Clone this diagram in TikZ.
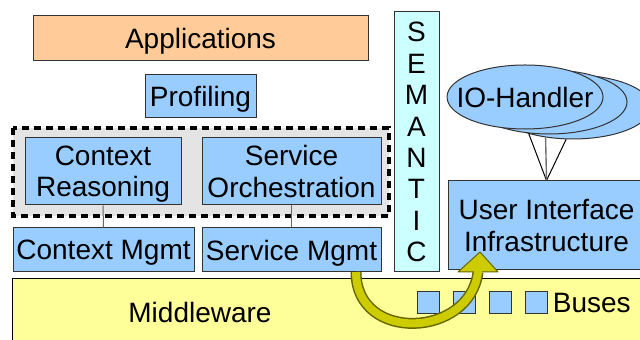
\documentclass[tikz,border=0pt]{standalone}
\usepackage{fontspec}
\setmainfont{Liberation Sans}
\usepackage{tikz}
\usetikzlibrary{shapes.geometric}

\definecolor{appfill}{HTML}{FFCC99}
\definecolor{boxblue}{HTML}{99CCFF}
\definecolor{semfill}{HTML}{CCFFFF}
\definecolor{mwfill}{HTML}{FFFF99}
\definecolor{groupfill}{HTML}{E4E4E4}
\definecolor{arrfill}{HTML}{CCCC00}
\definecolor{arrline}{HTML}{666600}

\begin{document}
\begin{tikzpicture}[x=0.5pt,y=-0.5pt,
		font=\fontsize{14}{15.7}\selectfont,
		box/.style={draw=black!80,line width=0.5pt,fill=boxblue,inner sep=0pt,align=center,text depth=0pt},
		ioell/.style={ellipse,draw=black!80,line width=0.5pt,fill=boxblue,inner sep=0pt,minimum width=78pt,minimum height=32pt}]
		\useasboundingbox (0,0) rectangle (640,340);
		% middleware layer
		\fill[mwfill] (12,279) rectangle (660,360);
		\draw[line width=0.5pt] (12,360) -- (12,279) -- (660,279);
		\node (mw) at (200,312) {Middleware};
		% upper layers
		\node[box,fill=appfill,minimum width=167.5pt,minimum height=22.5pt] (app) at (200.5,38.5) {Applications};
		\node[box,minimum width=55.5pt,minimum height=21.5pt] (prof) at (200.5,96.5) {Profiling};
		\filldraw[fill=groupfill,draw=black,line width=2pt,dash pattern=on 3.5pt off 2.5pt] (13,128) rectangle (389,216);
		\node[box,minimum width=78pt,minimum height=33.5pt] (cr) at (103,171.5) {Context\\Reasoning};
		\node[box,minimum width=89.5pt,minimum height=33.5pt] (so) at (291.5,171.5) {Service\\Orchestration};
		\node[box,minimum width=90.5pt,minimum height=22pt] (cm) at (103.5,250) {Context Mgmt};
		\node[box,minimum width=89.5pt,minimum height=22pt] (sm) at (291.5,250) {Service Mgmt};
		\draw[black!60,line width=0.5pt] (cr.south) -- (cm.north);
		\draw[black!60,line width=0.5pt] (so.south) -- (sm.north);
		% semantic column
		\node[box,fill=semfill,minimum width=22.5pt,minimum height=130pt] (sem) at (416.5,142) {S\\E\\M\\A\\N\\T\\I\\C};
		% user interface side
		\node[box,minimum width=98.5pt,minimum height=44.5pt] (uii) at (546.5,225.5) {User Interface\\Infrastructure};
		\node[ioell] (io3) at (573,107) {};
		\node[ioell] (io2) at (549,102) {};
		\node[ioell] (io1) at (525,97) {};
		\node (iotext) at (io1.center) {IO-Handler};
		\draw[line width=0.5pt] (io2.237) -- (uii.north);
		\draw[line width=0.5pt] (io3.258) -- (uii.north);
		\draw[black!55,line width=0.7pt] (io3.228) -- (uii.north);
		% buses
		\foreach \i/\x in {1/428,2/464,3/500,4/536}
			\node[box,minimum size=11pt] (bus\i) at (\x,303) {};
		\node[anchor=west,inner sep=2.5pt] (buses) at (bus4.east) {Buses};
		% curved arrow
		\coordinate (arrS) at (356,272);
		\coordinate (arrB) at (478,272);
		\coordinate (arrT) at (480,252);
		\draw[arrline,line width=5.5pt] (arrS) .. controls (356,343) and (470,338) .. (arrB);
		\filldraw[fill=arrfill,draw=arrline,line width=0.5pt,line join=round] (458,272) -- (arrT) -- (498,272) -- cycle;
		\draw[arrfill,line width=4pt] (arrS) .. controls (356,343) and (470,338) .. (arrB) -- (478,268);
	\end{tikzpicture}
\end{document}
